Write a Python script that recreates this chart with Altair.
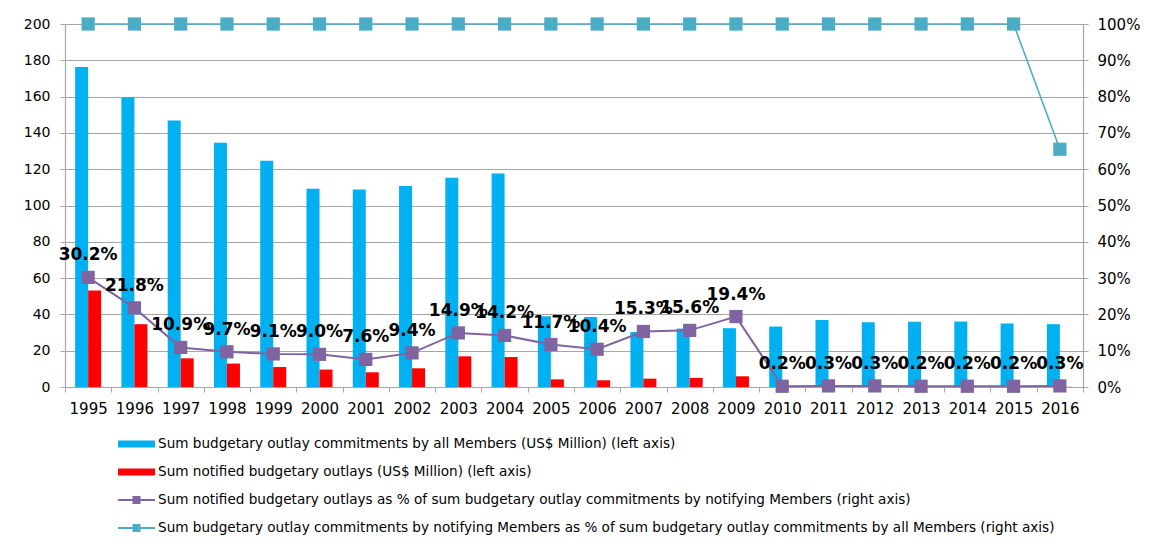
import altair as alt
import pandas as pd

years = ["1995", "1996", "1997", "1998", "1999", "2000", "2001", "2002", "2003", "2004", "2005",
         "2006", "2007", "2008", "2009", "2010", "2011", "2012", "2013", "2014", "2015", "2016"]

commit_all = [176.3, 159.7, 146.9, 134.6, 124.6, 109.2, 108.8, 110.8, 115.3, 117.6, 39.0,
              38.6, 30.3, 32.2, 32.4, 33.3, 36.9, 35.7, 35.9, 36.1, 35.0, 34.6]
notified = [53.1, 34.6, 15.8, 12.9, 11.0, 9.6, 8.1, 10.3, 16.9, 16.5, 4.2,
            3.7, 4.6, 5.0, 5.9, 0.07, 0.11, 0.11, 0.07, 0.07, 0.07, 0.10]
pct_notified = [0.302, 0.218, 0.109, 0.097, 0.091, 0.090, 0.076, 0.094, 0.149, 0.142, 0.117,
                0.104, 0.153, 0.156, 0.194, 0.002, 0.003, 0.003, 0.002, 0.002, 0.002, 0.003]
pct_coverage = [1.0, 1.0, 1.0, 1.0, 1.0, 1.0, 1.0, 1.0, 1.0, 1.0, 1.0,
                1.0, 1.0, 1.0, 1.0, 1.0, 1.0, 1.0, 1.0, 1.0, 1.0, 0.655]

L1 = "Sum budgetary outlay commitments by all Members (US$ Million) (left axis)"
L2 = "Sum notified budgetary outlays (US$ Million) (left axis)"
L3 = "Sum notified budgetary outlays as % of sum budgetary outlay commitments by notifying Members (right axis)"
L4 = "Sum budgetary outlay commitments by notifying Members as % of sum budgetary outlay commitments by all Members (right axis)"
labels = [L1, L2, L3, L4]
kinds = ["bar", "bar", "line", "line"]
colors = ["#00B0F0", "#FF0000", "#8064A2", "#4BACC6"]

bars_df = pd.DataFrame({
    "year": years + years,
    "series": [L1] * len(years) + [L2] * len(years),
    "value": commit_all + notified,
})
pct_df = pd.DataFrame({
    "year": years + years,
    "series": [L4] * len(years) + [L3] * len(years),
    "pct": pct_coverage + pct_notified,
})
label_df = pd.DataFrame({"year": years, "series": [L3] * len(years), "pct": pct_notified})

GRAY = "#a6a6a6"
color_scale = alt.Scale(domain=labels, range=colors)
color_enc = alt.Color("series:N", scale=color_scale, legend=None)

x_enc = alt.X(
    "year:O",
    sort=years,
    scale=alt.Scale(paddingInner=0, paddingOuter=0),
    axis=alt.Axis(title=None, labelAngle=0, tickBand="extent", labelFontSize=15,
                  labelPadding=9, tickSize=5, grid=False),
)

bars = alt.Chart(bars_df).mark_bar().encode(
    x=x_enc,
    xOffset=alt.XOffset("series:N", scale=alt.Scale(domain=[L1, L2], paddingInner=0, paddingOuter=0.78)),
    y=alt.Y("value:Q", scale=alt.Scale(domain=[0, 200], nice=False),
            axis=alt.Axis(title=None, orient="left", values=list(range(0, 201, 20)), grid=True,
                          gridColor=GRAY, gridWidth=1.2, minExtent=52, labelPadding=10,
                          tickSize=5, labelFontSize=14)),
    color=color_enc,
)

pct_y = alt.Y("pct:Q", scale=alt.Scale(domain=[0, 1], nice=False),
              axis=alt.Axis(title=None, orient="right", format=".0%",
                            values=[0, 0.1, 0.2, 0.3, 0.4, 0.5, 0.6, 0.7, 0.8, 0.9, 1.0],
                            grid=False, labelPadding=9, tickSize=5, labelFontSize=15))

lines = alt.Chart(pct_df).mark_line().encode(
    x=x_enc, y=pct_y, color=color_enc,
    strokeWidth=alt.StrokeWidth("series:N", scale=alt.Scale(domain=[L3, L4], range=[2, 1.6]), legend=None),
)
points = alt.Chart(pct_df).mark_point(shape="square", filled=True, size=175, opacity=1).encode(
    x=x_enc, y=pct_y, color=color_enc,
)
texts = alt.Chart(label_df).mark_text(fontWeight="bold", fontSize=17, dy=-22, color="black").encode(
    x=x_enc, y=pct_y, text=alt.Text("pct:Q", format=".1%"),
)

main = alt.layer(bars, alt.layer(lines, points, texts)).resolve_scale(y="independent").properties(
    width=1018, height=363
)

leg_df = pd.DataFrame({"series": labels, "kind": kinds})
leg_y = alt.Y("series:N", sort=labels, scale=alt.Scale(type="point", padding=0.214), axis=None)

leg_bar = alt.Chart(leg_df).transform_filter(alt.datum.kind == "bar").mark_rule(strokeWidth=7).encode(
    x=alt.value(53), x2=alt.value(90), y=leg_y, color=color_enc)
leg_line = alt.Chart(leg_df).transform_filter(alt.datum.kind == "line").mark_rule(strokeWidth=2).encode(
    x=alt.value(53), x2=alt.value(90), y=leg_y, color=color_enc)
leg_pt = alt.Chart(leg_df).transform_filter(alt.datum.kind == "line").mark_point(
    shape="square", filled=True, size=64, opacity=1).encode(x=alt.value(71.5), y=leg_y, color=color_enc)
leg_text = alt.Chart(leg_df).mark_text(align="left", fontSize=13.6, color="black").encode(
    x=alt.value(93), y=leg_y, text="series:N")

legend = alt.layer(leg_bar, leg_line, leg_pt, leg_text).properties(width=1018, height=96)

chart = alt.vconcat(main, legend, spacing=20).properties(
    padding={"left": 5, "top": 9, "right": 0, "bottom": 0}
).configure(font="DejaVu Sans").configure_view(stroke=None).configure_axis(
    labelColor="black", domainColor=GRAY, tickColor=GRAY, labelFont="DejaVu Sans",
    domainWidth=1.2,
)

chart.save("out.html", embed_options={"renderer": "svg", "actions": False})
